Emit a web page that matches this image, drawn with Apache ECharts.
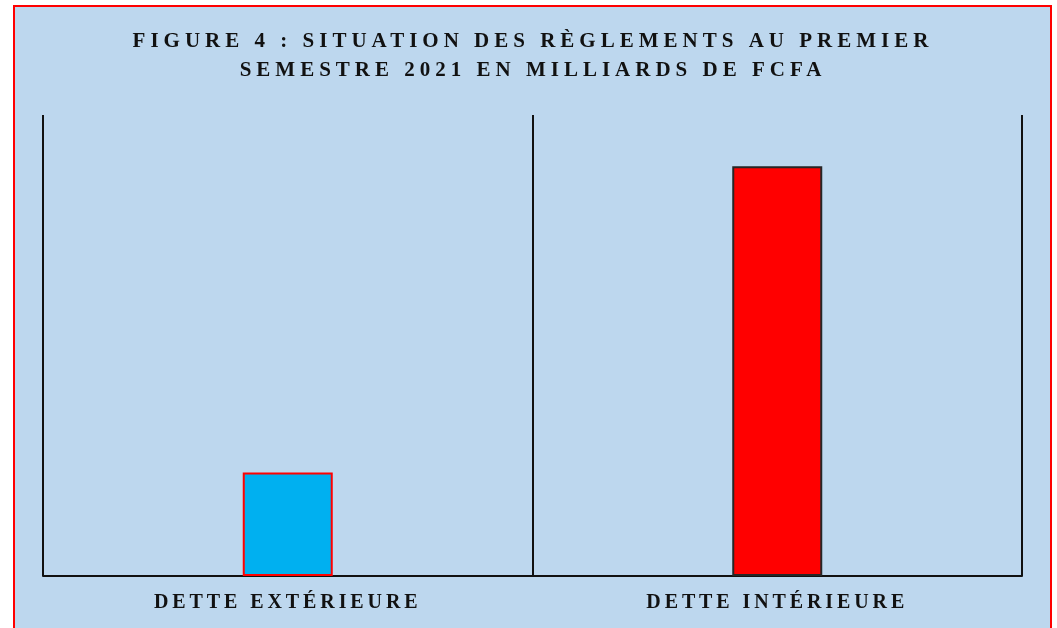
<!DOCTYPE html>
<html>
<head>
<meta charset="utf-8">
<script src="https://cdn.jsdelivr.net/npm/echarts@6/dist/echarts.min.js"></script>
<style>
  body { margin: 0; background: #fff; }
  #frame {
    position: absolute;
    left: 13px;
    top: 5px;
    width: 1035px;
    height: 660px;
    border: 2px solid #ff0000;
    background: #bdd7ee;
  }
  #chart {
    position: absolute;
    left: 0;
    top: 0;
    width: 1057px;
    height: 628px;
  }
</style>
</head>
<body>
<div id="frame"></div>
<div id="chart"></div>
<script>
var titleText = 'FIGURE 4 : SITUATION DES RÈGLEMENTS AU PREMIER\nSEMESTRE 2021 EN MILLIARDS DE FCFA'
var categories = ['DETTE EXTÉRIEURE', 'DETTE INTÉRIEURE']
var values = [101, 400]
var barColors = ['#00b0f0', '#ff0000']
var barBorders = ['#ff0000', '#262626']

// echarts has no letter spacing option, the canvas context does
var spacingBySize = { 21: 5, 20: 3.9 }
var nativeFillText = CanvasRenderingContext2D.prototype.fillText
CanvasRenderingContext2D.prototype.fillText = function(text, x, y, maxWidth) {
  var m = /(\d+(?:\.\d+)?)px/.exec(this.font)
  var size = m ? Math.round(parseFloat(m[1])) : 0
  this.letterSpacing = (spacingBySize[size] || 0) + 'px'
  if (maxWidth === undefined) return nativeFillText.call(this, text, x, y)
  return nativeFillText.call(this, text, x, y, maxWidth)
}

var myChart = echarts.init(document.getElementById('chart'), null, { renderer: 'canvas' })

myChart.setOption({
  backgroundColor: 'transparent',
  animation: false,
  title: {
    text: titleText,
    left: 533,
    top: 27,
    textAlign: 'center',
    padding: 0,
    textStyle: {
      fontFamily: 'Liberation Serif',
      fontWeight: 'bold',
      fontSize: 21,
      lineHeight: 29,
      color: '#111'
    }
  },
  grid: {
    left: 43,
    right: 35,
    top: 115,
    bottom: 52
  },
  xAxis: {
    type: 'category',
    data: categories,
    axisLine: {
      lineStyle: { color: '#111', width: 2 }
    },
    axisTick: { show: false },
    splitLine: {
      show: true,
      lineStyle: { color: '#111', width: 2 }
    },
    axisLabel: {
      margin: 17,
      fontFamily: 'Liberation Serif',
      fontWeight: 'bold',
      fontSize: 20,
      color: '#111'
    }
  },
  yAxis: {
    type: 'value',
    min: 0,
    max: 450,
    show: false
  },
  series: [
    {
      type: 'bar',
      barWidth: 90,
      data: values.map(function(v, i) {
        return {
          value: v,
          itemStyle: {
            color: barColors[i],
            borderColor: barBorders[i],
            borderWidth: 2
          }
        }
      })
    }
  ]
})
</script>
</body>
</html>
